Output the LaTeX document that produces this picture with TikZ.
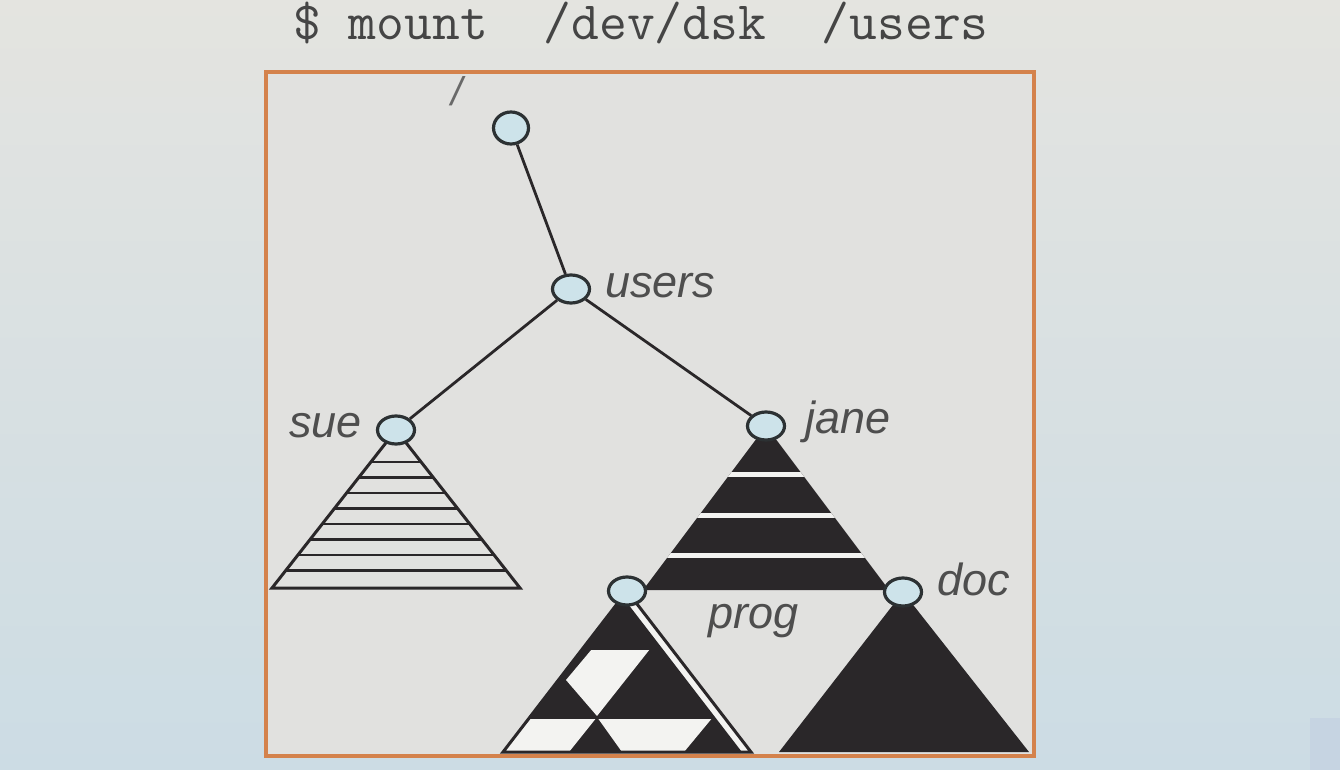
\documentclass[tikz,border=0pt]{standalone}
\usepackage{fontspec}
\newfontfamily\labelfont{Liberation Sans}
\usetikzlibrary{shapes.geometric}

\definecolor{ink}{HTML}{2A2729}
\definecolor{rim}{HTML}{2C3133}
\definecolor{nodeblue}{HTML}{CDE3EA}
\definecolor{labeltext}{HTML}{4E4E4E}
\definecolor{cmdtext}{HTML}{454545}
\definecolor{framecol}{HTML}{D4824C}
\definecolor{panel}{HTML}{E1E1DF}
\definecolor{paper}{HTML}{F3F3F1}
\definecolor{slidetop}{HTML}{E4E4E0}
\definecolor{slidebottom}{HTML}{CCDCE4}
\definecolor{corner}{HTML}{C6D4E2}

\tikzset{
  dirnode/.style={ellipse, draw=rim, fill=nodeblue, line width=3.2pt,
    minimum width=37pt, minimum height=28pt, inner sep=0pt},
  dirlabel/.style={font=\labelfont\itshape\fontsize{45}{50}\selectfont,
    text=labeltext, inner sep=0pt, anchor=base west},
  cmd/.style={font=\ttfamily\fontsize{54}{58}\selectfont, text=cmdtext,
    inner sep=0pt, anchor=base},
  link/.style={draw=ink, line width=2.8pt},
  outline/.style={draw=ink, line width=3pt, line join=miter},
  hatch/.style={draw=ink, line width=2.6pt},
  stripe/.style={draw=paper, line width=5pt},
}

\begin{document}
\begin{tikzpicture}[x=1pt,y=-1pt]
\useasboundingbox (0,0) rectangle (1340,770);

% slide and panel
\shade[top color=slidetop, bottom color=slidebottom] (0,0) rectangle (1340,770);
\fill[corner] (1310,718) rectangle (1340,770);
\fill[panel] (266,72) rectangle (1034,756);

\node[cmd] (mount) at (641,40) {\$~mount~~/dev/dsk~~/users};

% sue: hatched tree
\begin{scope}
  \clip (396,430) -- (272,588) -- (520,588) -- cycle;
  \foreach \y in {462,477.5,...,571}
    \draw[hatch] (260,\y) -- (530,\y);
\end{scope}
\draw[outline] (396,430) -- (272,588) -- (520,588) -- cycle;

% jane: striped tree
\begin{scope}
  \clip (766,426) -- (643,590) -- (889,590) -- cycle;
  \fill[ink] (600,400) rectangle (930,600);
  \foreach \y in {474,515,555}
    \draw[stripe] (600,\y) -- (930,\y);
\end{scope}

% prog: checkered tree with a double edge
\fill[paper] (627,591) -- (503,752) -- (751,752) -- cycle;
\fill[ink] (621.5,598) -- (503,752) -- (740,752) -- cycle;
\fill[paper] (592,649) -- (650,649) -- (597,716) -- (566,680) -- cycle;
\fill[paper] (532,717) -- (597,717) -- (569,752) -- (503,752) -- cycle;
\fill[paper] (597,717) -- (713,717) -- (684,752) -- (622,752) -- cycle;
\draw[outline] (583,648) -- (660,648);
\draw[outline] (530,717) -- (713,717);
\draw[outline] (621.5,598) -- (740,752);
\draw[outline] (627,591) -- (503,752) -- (751,752) -- cycle;

% doc: solid tree
\fill[ink] (903,592) -- (779,752) -- (1029,752) -- cycle;

% directories
\node[dirnode, minimum width=35pt, minimum height=32pt] (root) at (511,128) {};
\node[dirnode] (users) at (571,289) {};
\node[dirnode] (sue) at (396,430) {};
\node[dirnode] (jane) at (766,426) {};
\node[dirnode] (prog) at (627,591) {};
\node[dirnode] (doc) at (903,592) {};

\draw[link] (root) -- (users);
\draw[link] (users) -- (sue);
\draw[link] (users) -- (jane);

\node[dirlabel, font=\labelfont\itshape\fontsize{40}{44}\selectfont,
  text=labeltext!85] (rootname) at (451,106) {/};
\node[dirlabel] (usersname) at (605,297) {users};
\node[dirlabel] (suename) at (289,437) {sue};
\node[dirlabel] (janename) at (805,433) {jane};
\node[dirlabel] (progname) at (708,628) {prog};
\node[dirlabel] (docname) at (937,595) {doc};

\draw[draw=framecol, line width=4pt] (266,72) rectangle (1034,756);
\end{tikzpicture}
\end{document}
